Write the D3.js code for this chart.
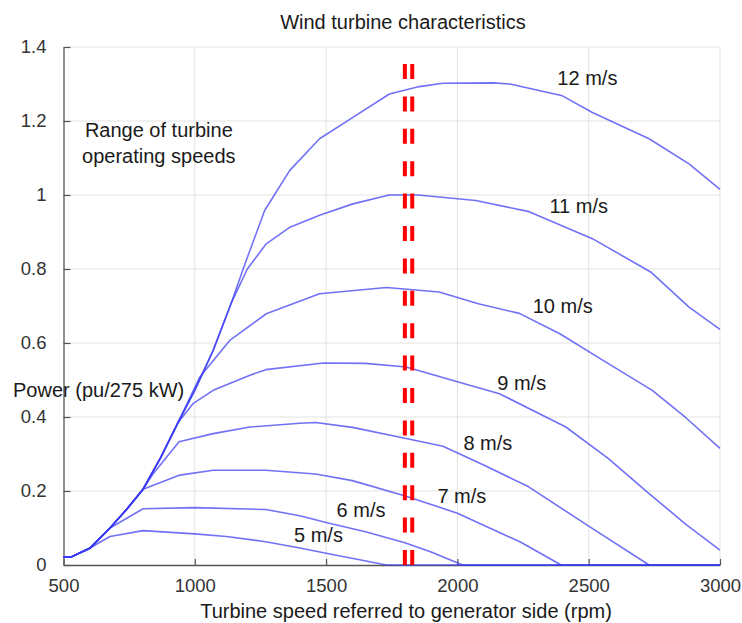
<!DOCTYPE html>
<html>
<head>
<meta charset="utf-8">
<script src="https://cdn.jsdelivr.net/npm/d3@7"></script>
<style>
  html, body { margin: 0; padding: 0; background: #fff; }
  svg { display: block; font-family: "Liberation Sans", Arial, sans-serif; }
</style>
</head>
<body>
<svg id="chart" width="742" height="623"></svg>
<script>
// ---------------- data ----------------
const xTicks = [500, 1000, 1500, 2000, 2500, 3000];
const yTicks = [0, 0.2, 0.4, 0.6, 0.8, 1, 1.2, 1.4];
const yTickLabels = ["0", "0.2", "0.4", "0.6", "0.8", "1", "1.2", "1.4"];

const speeds = ["5 m/s", "6 m/s", "7 m/s", "8 m/s", "9 m/s", "10 m/s", "11 m/s", "12 m/s"];

// [rpm, power pu]
const curve5 = [[500,0.022],[530,0.022],[600,0.045],[640,0.062],[677,0.077],[803,0.093],[1000,0.084],[1120,0.077],[1270,0.063],[1400,0.046],[1500,0.032],[1730,0],[3000,0]];
const curve6 = [[500,0.022],[530,0.022],[600,0.045],[677,0.1],[803,0.152],[1000,0.155],[1270,0.15],[1400,0.133],[1500,0.115],[1650,0.09],[1800,0.06],[1900,0.035],[2020,0],[3000,0]];
const curve7 = [[500,0.022],[530,0.022],[600,0.045],[677,0.1],[740,0.15],[803,0.205],[943,0.243],[1070,0.256],[1270,0.256],[1460,0.246],[1600,0.228],[1805,0.186],[2000,0.14],[2160,0.088],[2240,0.062],[2395,0],[3000,0]];
const curve8 = [[500,0.022],[530,0.022],[600,0.045],[677,0.1],[740,0.15],[803,0.205],[840,0.245],[940,0.333],[1070,0.355],[1210,0.373],[1400,0.383],[1460,0.385],[1600,0.372],[1805,0.342],[1945,0.321],[2100,0.27],[2270,0.212],[2500,0.105],[2730,0],[3000,0]];
const curve9 = [[500,0.022],[530,0.022],[600,0.045],[677,0.1],[740,0.15],[803,0.205],[870,0.29],[937,0.386],[993,0.436],[1070,0.472],[1210,0.513],[1270,0.528],[1490,0.546],[1650,0.545],[1805,0.535],[2000,0.495],[2160,0.463],[2413,0.373],[2574,0.288],[2730,0.193],[2870,0.11],[3000,0.04]];
const curve10 = [[500,0.022],[530,0.022],[600,0.045],[677,0.1],[740,0.15],[803,0.205],[870,0.29],[937,0.386],[1019,0.508],[1133,0.607],[1272,0.679],[1475,0.733],[1730,0.75],[1930,0.738],[2080,0.706],[2236,0.68],[2390,0.625],[2550,0.555],[2742,0.472],[2870,0.398],[3000,0.315]];
const curve11 = [[500,0.022],[530,0.022],[600,0.045],[677,0.1],[740,0.15],[803,0.205],[870,0.29],[937,0.386],[1000,0.472],[1070,0.58],[1140,0.71],[1200,0.8],[1272,0.868],[1360,0.912],[1475,0.945],[1602,0.976],[1740,1.0],[1850,1.0],[2070,0.985],[2273,0.955],[2514,0.882],[2736,0.792],[2882,0.697],[3000,0.637]];
const curve12 = [[500,0.022],[530,0.022],[600,0.045],[677,0.1],[740,0.15],[803,0.205],[870,0.29],[937,0.386],[1000,0.472],[1070,0.58],[1140,0.71],[1184,0.8],[1266,0.958],[1361,1.066],[1475,1.152],[1602,1.21],[1741,1.273],[1855,1.293],[1944,1.302],[2135,1.303],[2200,1.3],[2400,1.268],[2514,1.223],[2730,1.152],[2882,1.084],[3000,1.015]];
const curves = [curve5, curve6, curve7, curve8, curve9, curve10, curve11, curve12];

// operating speed range limits (rpm)
const rangeLimits = [1800, 1828];

// label anchors in data units [rpm, pu]
const speedLabelAt = [[1471,0.062],[1633,0.130],[2017,0.168],[2116,0.311],[2245,0.473],[2401,0.681],[2462,0.951],[2495,1.297]];
const rangeText = ["Range of turbine", "operating speeds"];
const rangeTextAt = [[863,1.157],[863,1.086]];

// ---------------- drawing ----------------
const svg = d3.select("#chart");
const x = d3.scaleLinear().domain([500, 3000]).range([63.5, 720]);
const y = d3.scaleLinear().domain([0, 1.4]).range([565, 47]);

// grid
const grid = svg.append("g");
grid.selectAll("line.vg").data(xTicks.slice(1)).enter().append("line")
  .attr("x1", d => x(d)).attr("x2", d => x(d))
  .attr("y1", y(0)).attr("y2", y(1.4))
  .attr("stroke", "#e3e3e3").attr("stroke-width", 1);
grid.selectAll("line.hg").data(yTicks.slice(1)).enter().append("line")
  .attr("x1", x(500)).attr("x2", x(3000))
  .attr("y1", d => y(d)).attr("y2", d => y(d))
  .attr("stroke", "#e3e3e3").attr("stroke-width", 1);

// axes (MATLAB style: inward ticks)
const xAxis = d3.axisBottom(x).tickValues(xTicks).tickSizeInner(-6).tickSizeOuter(0).tickPadding(14)
  .tickFormat(d3.format("d"));
const gx = svg.append("g").attr("transform", `translate(0,${y(0)})`).call(xAxis);
const yAxis = d3.axisLeft(y).tickValues(yTicks).tickSizeInner(-7).tickSizeOuter(0).tickPadding(17)
  .tickFormat((d, i) => yTickLabels[i]);
const gy = svg.append("g").attr("transform", `translate(${x(500)},0)`).call(yAxis);
[gx, gy].forEach(g => {
  g.select(".domain").attr("stroke", "#555").attr("stroke-width", 1.3);
  g.selectAll(".tick line").attr("stroke", "#555").attr("stroke-width", 1.2);
  g.selectAll(".tick text").attr("fill", "#333").style("font-size", "18.5px")
    .style("font-family", "'Liberation Sans', Arial, sans-serif");
});

// curves
const line = d3.line().x(d => x(d[0])).y(d => y(d[1]));
svg.append("g").selectAll("path").data(curves).enter().append("path")
  .attr("d", line)
  .attr("fill", "none")
  .attr("stroke", "#3a3af2")
  .attr("stroke-opacity", 0.72)
  .attr("stroke-width", 1.6)
  .attr("stroke-linejoin", "round");

// range lines
svg.append("g").selectAll("line").data(rangeLimits).enter().append("line")
  .attr("x1", d => x(d)).attr("x2", d => x(d))
  .attr("y1", y(0)).attr("y2", y(1.4))
  .attr("stroke", "#ff0000").attr("stroke-width", 4)
  .attr("stroke-dasharray", "15,17.4");

// speed labels
svg.append("g").selectAll("text").data(speeds).enter().append("text")
  .attr("x", (d, i) => x(speedLabelAt[i][0]))
  .attr("y", (d, i) => y(speedLabelAt[i][1]))
  .attr("text-anchor", "middle")
  .attr("fill", "#1a1a1a")
  .style("font-size", "20px")
  .text(d => d);

// range annotation
svg.append("g").selectAll("text").data(rangeText).enter().append("text")
  .attr("x", (d, i) => x(rangeTextAt[i][0]))
  .attr("y", (d, i) => y(rangeTextAt[i][1]))
  .attr("text-anchor", "middle")
  .attr("fill", "#1a1a1a")
  .style("font-size", "20px")
  .text(d => d);

// title and axis labels
svg.append("text").attr("x", 403).attr("y", 29).attr("text-anchor", "middle")
  .attr("fill", "#1a1a1a").style("font-size", "20px").text("Wind turbine characteristics");
svg.append("text").attr("x", 406).attr("y", 618).attr("text-anchor", "middle")
  .attr("fill", "#1a1a1a").style("font-size", "20px").text("Turbine speed referred to generator side (rpm)");
svg.append("text").attr("x", 13).attr("y", 397).attr("text-anchor", "start")
  .attr("fill", "#1a1a1a").style("font-size", "20px").text("Power (pu/275 kW)");
</script>
</body>
</html>
